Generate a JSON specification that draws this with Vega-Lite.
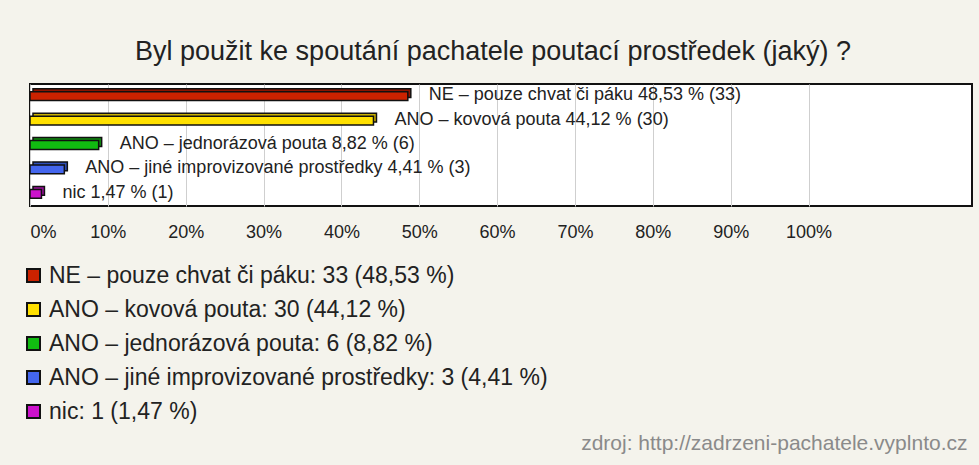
{
  "$schema": "https://vega.github.io/schema/vega-lite/v6.json",
  "width": 942,
  "height": 122,
  "autosize": {"type": "none"},
  "padding": {"left": 30, "top": 84, "right": 7, "bottom": 259},
  "background": "#f4f3ec",
  "title": {
    "text": "Byl použit ke spoutání pachatele poutací prostředek (jaký) ?",
    "font": "Liberation Sans",
    "fontSize": 27,
    "fontWeight": "normal",
    "color": "#222222",
    "anchor": "middle",
    "dx": -8,
    "dy": 25,
    "offset": 22,
    "baseline": "alphabetic"
  },
  "data": {
    "values": [
      {"label": "NE – pouze chvat či páku 48,53 % (33)", "legend": "NE – pouze chvat či páku: 33 (48,53 %)", "pct": 48.53},
      {"label": "ANO – kovová pouta 44,12 % (30)", "legend": "ANO – kovová pouta: 30 (44,12 %)", "pct": 44.12},
      {"label": "ANO – jednorázová pouta 8,82 % (6)", "legend": "ANO – jednorázová pouta: 6 (8,82 %)", "pct": 8.82},
      {"label": "ANO – jiné improvizované prostředky 4,41 % (3)", "legend": "ANO – jiné improvizované prostředky: 3 (4,41 %)", "pct": 4.41},
      {"label": "nic 1,47 % (1)", "legend": "nic: 1 (1,47 %)", "pct": 1.47}
    ]
  },
  "encoding": {
    "y": {"field": "label", "type": "nominal", "sort": null, "axis": null, "scale": {"paddingInner": 0.5, "paddingOuter": 0.25}},
    "x": {
      "field": "pct",
      "type": "quantitative",
      "scale": {"domain": [0, 121], "nice": false, "zero": true},
      "axis": {
        "values": [0, 10, 20, 30, 40, 50, 60, 70, 80, 90, 100],
        "labelExpr": "datum.value + '%'",
        "grid": true,
        "gridColor": "#cfcfcf",
        "gridWidth": 1,
        "ticks": false,
        "domain": false,
        "labelFont": "Liberation Sans",
        "labelFontSize": 18,
        "labelColor": "#222222",
        "labelPadding": 17,
        "labelFlush": true,
        "title": "zdroj: http://zadrzeni-pachatele.vyplnto.cz",
        "titleFont": "Liberation Sans",
        "titleFontSize": 21,
        "titleFontWeight": "normal",
        "titleColor": "#8a8a8a",
        "titleAnchor": "end",
        "titleAlign": "right",
        "titleBaseline": "middle",
        "titleX": 937,
        "titleY": 237
      }
    }
  },
  "layer": [
    {
      "mark": {"type": "bar", "xOffset": 3, "x2Offset": 3, "yOffset": -3, "y2Offset": -3, "height": {"band": 0.72}, "stroke": "#111111", "strokeWidth": 1.5},
      "encoding": {
        "fill": {
          "field": "legend",
          "type": "nominal",
          "scale": {
            "domain": ["NE – pouze chvat či páku: 33 (48,53 %)", "ANO – kovová pouta: 30 (44,12 %)", "ANO – jednorázová pouta: 6 (8,82 %)", "ANO – jiné improvizované prostředky: 3 (4,41 %)", "nic: 1 (1,47 %)"],
            "range": ["#8e1400", "#c9b000", "#0e8e0e", "#2f4fb8", "#9a0f9a"]
          },
          "legend": null
        }
      }
    },
    {
      "mark": {"type": "bar", "height": {"band": 0.72}, "stroke": "#111111", "strokeWidth": 1.5},
      "encoding": {
        "fill": {
          "field": "legend",
          "type": "nominal",
          "scale": {
            "domain": ["NE – pouze chvat či páku: 33 (48,53 %)", "ANO – kovová pouta: 30 (44,12 %)", "ANO – jednorázová pouta: 6 (8,82 %)", "ANO – jiné improvizované prostředky: 3 (4,41 %)", "nic: 1 (1,47 %)"],
            "range": ["#cc2200", "#ffe000", "#11bb11", "#4466ee", "#cc11cc"]
          },
          "legend": {
            "title": null,
            "orient": "none",
            "legendX": -8,
            "legendY": 180,
            "padding": 0,
            "symbolType": "square",
            "symbolSize": 169,
            "symbolStrokeColor": "#111111",
            "symbolStrokeWidth": 2,
            "symbolOpacity": 1,
            "labelFont": "Liberation Sans",
            "labelFontSize": 23,
            "labelColor": "#222222",
            "labelOffset": 4,
            "labelLimit": 0,
            "rowPadding": 10
          }
        }
      }
    },
    {
      "mark": {"type": "text", "align": "left", "baseline": "middle", "dx": 21, "dy": -1, "font": "Liberation Sans", "fontSize": 18, "color": "#222222"},
      "encoding": {"text": {"field": "label", "type": "nominal"}}
    }
  ],
  "resolve": {"scale": {"fill": "independent"}},
  "config": {
    "view": {"fill": "white", "stroke": "#111111", "strokeWidth": 2}
  }
}
